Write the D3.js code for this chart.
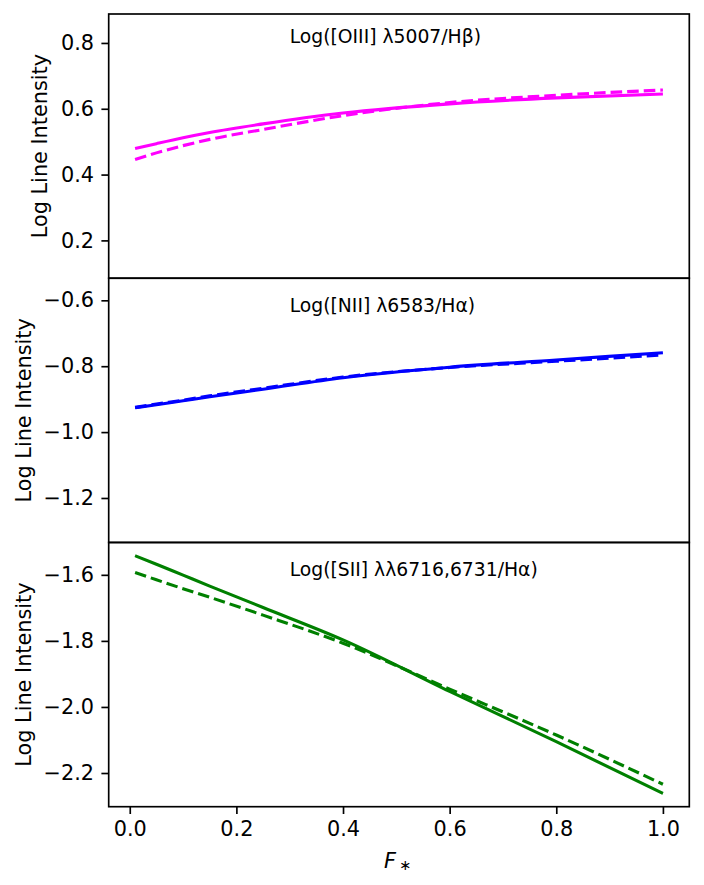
<!DOCTYPE html>
<meta charset="utf-8">
<head>
  <title>Log Line Intensity vs F*</title>
</head>

<style>
  body { margin: 0; background: #fff; }
  text { font-family: "DejaVu Sans", sans-serif; fill: #000; }
  .tick text { font-size: 20.8px; }
  .tick line { stroke: #000; stroke-width: 1.67; }
  .domain { display: none; }
</style>

<body>

  <div id="my_dataviz"></div>

  <script src="https://d3js.org/d3.v7.min.js"></script>

	<script>

	// sampled F* values (shared by every panel)
	var fstar = [0.01, 0.05, 0.1, 0.15, 0.25, 0.4, 0.6, 0.8, 1.0];

	// [OIII] 5007 / Hbeta
	var oiiiSolid  = [0.479, 0.494, 0.512, 0.528, 0.554, 0.587, 0.615, 0.633, 0.645];
	var oiiiDashed = [0.446, 0.466, 0.488, 0.507, 0.537, 0.579, 0.619, 0.641, 0.657];

	// [NII] 6583 / Halpha
	var niiSolid  = [-0.926, -0.917, -0.905, -0.893, -0.870, -0.835, -0.803, -0.781, -0.759];
	var niiDashed = [-0.925, -0.915, -0.903, -0.890, -0.867, -0.833, -0.804, -0.785, -0.766];

	// [SII] 6716,6731 / Halpha
	var siiSolid  = [-1.542, -1.568, -1.601, -1.634, -1.699, -1.797, -1.953, -2.105, -2.262];
	var siiDashed = [-1.593, -1.615, -1.642, -1.668, -1.722, -1.807, -1.946, -2.085, -2.234];

	var xTicks = [0.0, 0.2, 0.4, 0.6, 0.8, 1.0];
	var panelTitles = ["Log([OIII] \u03bb5007/H\u03b2)", "Log([NII] \u03bb6583/H\u03b1)", "Log([SII] \u03bb\u03bb6716,6731/H\u03b1)"];
	var panelColors = ["#ff00ff", "#0000ff", "#008000"];
	var yDomains = [[0.085, 0.888], [-1.335, -0.533], [-2.302, -1.502]];
	var yTicks = [[0.2, 0.4, 0.6, 0.8], [-1.2, -1.0, -0.8, -0.6], [-2.2, -2.0, -1.8, -1.6]];

	var panels = [
	  { solid: oiiiSolid, dashed: oiiiDashed },
	  { solid: niiSolid, dashed: niiDashed },
	  { solid: siiSolid, dashed: siiDashed }
	];

	// figure layout (150 dpi: 1pt = 2.083px)
	var W = 704, H = 885;
	var margin = {top: 14, right: 14.7, bottom: 78.3, left: 108.7};
	var width = W - margin.left - margin.right,
		panelH = (H - margin.top - margin.bottom) / 3;

	var svg = d3.select("#my_dataviz")
	  .append("svg")
		.attr("width", W)
		.attr("height", H);

	// shared x scale (data 0.01..1.0 plus a 5% margin)
	var x = d3.scaleLinear()
	  .domain([-0.0395, 1.0495])
	  .range([0, width]);

	panels.forEach(function(p, i) {
	  var g = svg.append("g")
		.attr("transform", "translate(" + margin.left + "," + (margin.top + i * panelH) + ")");

	  var y = d3.scaleLinear()
		.domain(yDomains[i])
		.range([panelH, 0]);

	  // y axis
	  g.append("g")
		.call(d3.axisLeft(y).tickValues(yTicks[i]).tickSize(7.3).tickPadding(7.3)
		  .tickFormat(d3.format(".1f")));

	  // x ticks only on the bottom panel
	  if (i === 2) {
		g.append("g")
		  .attr("transform", "translate(0," + panelH + ")")
		  .call(d3.axisBottom(x).tickValues(xTicks).tickSize(7.3).tickPadding(7.3)
			.tickFormat(d3.format(".1f")));
	  }

	  var line = d3.line()
		.curve(d3.curveMonotoneX)
		.x(function(d) { return x(d[0]); })
		.y(function(d) { return y(d[1]); });

	  g.append("path")
		.datum(fstar.map(function(f, k) { return [f, p.solid[k]]; }))
		.attr("fill", "none")
		.attr("stroke", panelColors[i])
		.attr("stroke-width", 3.1)
		.attr("d", line);

	  g.append("path")
		.datum(fstar.map(function(f, k) { return [f, p.dashed[k]]; }))
		.attr("fill", "none")
		.attr("stroke", panelColors[i])
		.attr("stroke-width", 3.1)
		.attr("stroke-dasharray", "11.6,5")
		.attr("d", line);

	  // panel annotation
	  g.append("text")
		.attr("x", x(0.3))
		.attr("y", i === 0 ? 28.7 : 33.8)
		.style("font-size", "18.75px")
		.text(panelTitles[i]);

	  // frame
	  g.append("rect")
		.attr("width", width)
		.attr("height", panelH)
		.attr("fill", "none")
		.attr("stroke", "#000")
		.attr("stroke-width", 1.67);

	  // y label
	  g.append("text")
		.attr("transform", "translate(" + (i === 0 ? -62 : -78) + "," + (panelH / 2) + ") rotate(-90)")
		.attr("text-anchor", "middle")
		.style("font-size", "20.8px")
		.text("Log Line Intensity");
	});

	// x label
	svg.append("text")
	  .attr("x", 384)
	  .attr("y", 868)
	  .style("font-size", "20.8px")
	  .style("font-style", "italic")
	  .html("F<tspan font-style='normal' font-size='14.5px' dx='3' dy='2'>\u2217</tspan>");

	</script>
</body>
</html>
